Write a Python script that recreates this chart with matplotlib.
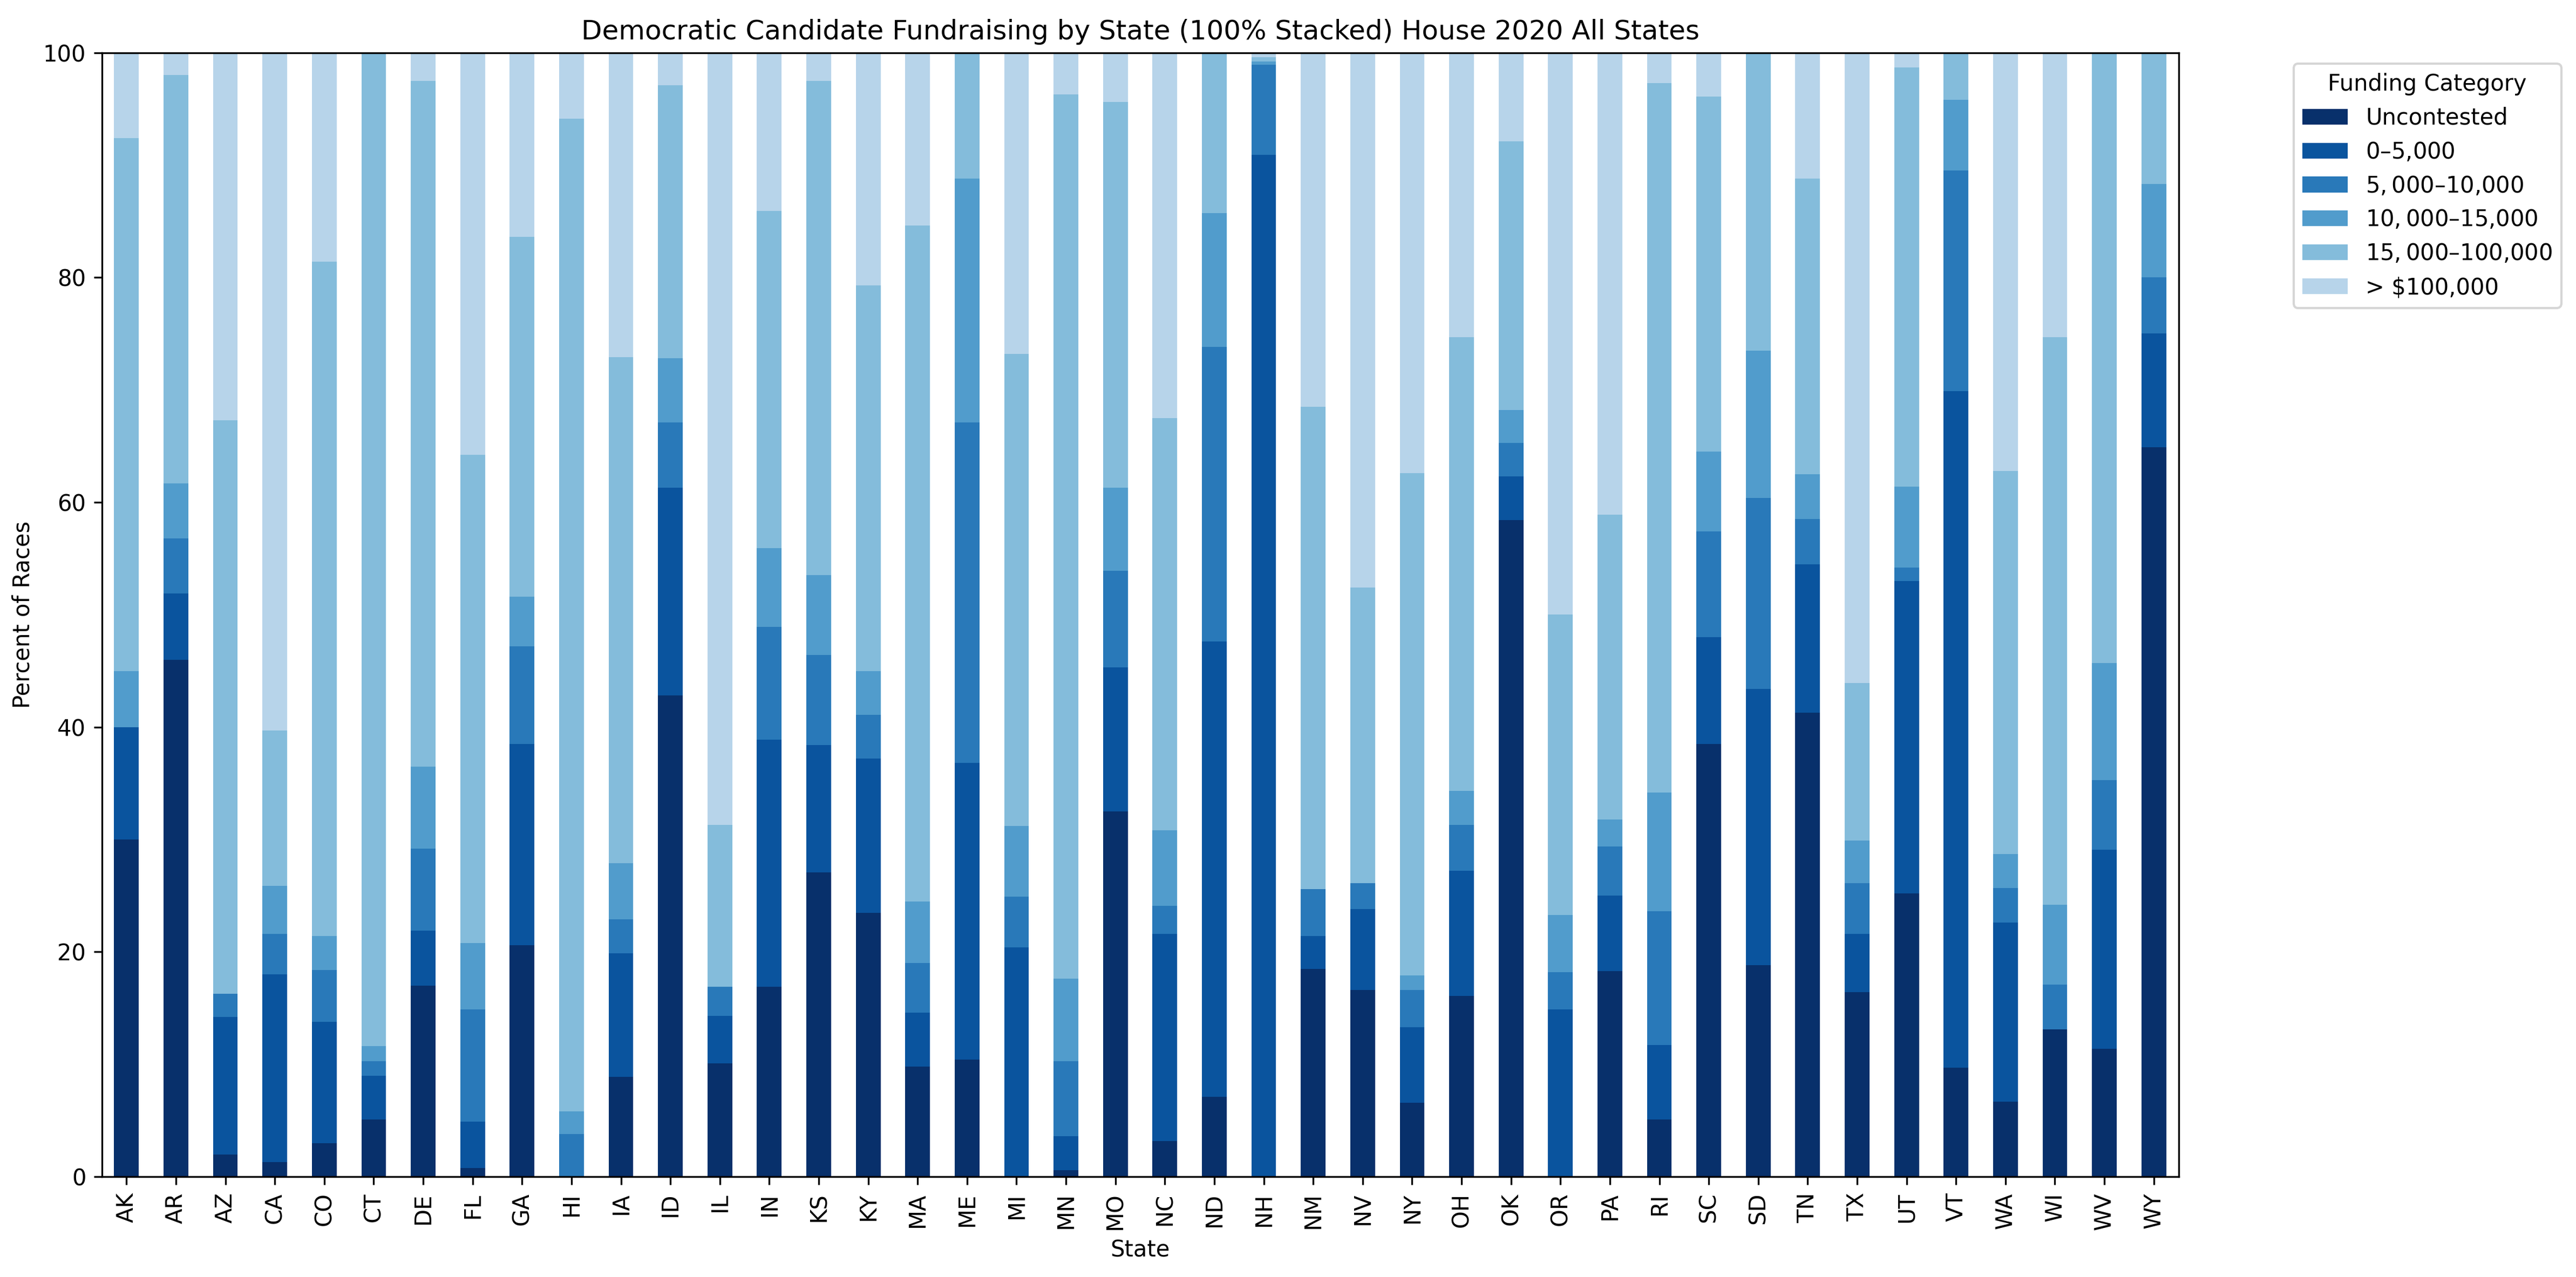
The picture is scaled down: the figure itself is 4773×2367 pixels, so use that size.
import matplotlib.pyplot as plt
import numpy as np
import pandas as pd

plt.switch_backend('agg')

states = ['AK', 'AR', 'AZ', 'CA', 'CO', 'CT', 'DE', 'FL', 'GA', 'HI', 'IA', 'ID', 'IL', 'IN',
          'KS', 'KY', 'MA', 'ME', 'MI', 'MN', 'MO', 'NC', 'ND', 'NH', 'NM', 'NV', 'NY', 'OH',
          'OK', 'OR', 'PA', 'RI', 'SC', 'SD', 'TN', 'TX', 'UT', 'VT', 'WA', 'WI', 'WV', 'WY']

categories = ['Uncontested', '$0–$5,000', '$5,000–$10,000', '$10,000–$15,000',
              '$15,000–$100,000', '> $100,000']

uncontested = [30.0, 46.0, 2.0, 1.3, 3.0, 5.1, 17.0, 0.8, 20.6, 0, 8.9, 42.8, 10.1, 16.9,
               27.1, 23.5, 9.8, 10.4, 0, 0.6, 32.5, 3.2, 7.1, 0, 18.5, 16.6, 6.6, 16.1,
               58.4, 0, 18.3, 5.1, 38.5, 18.8, 41.3, 16.4, 25.2, 9.7, 6.7, 13.1, 11.4, 64.9]
under_5k = [10.0, 5.9, 12.2, 16.7, 10.8, 3.9, 4.9, 4.1, 17.9, 0, 11.0, 18.5, 4.2, 22.0,
            11.3, 13.7, 4.8, 26.4, 20.4, 3.0, 12.8, 18.4, 40.5, 90.9, 2.9, 7.2, 6.7, 11.1,
            3.9, 14.9, 6.7, 6.6, 9.5, 24.6, 13.2, 5.2, 27.8, 60.2, 15.9, 0, 17.7, 10.1]
k5_10 = [0, 4.9, 2.1, 3.6, 4.6, 1.3, 7.3, 10.0, 8.7, 3.8, 3.0, 5.8, 2.6, 10.0,
         8.0, 3.9, 4.4, 30.3, 4.5, 6.7, 8.6, 2.5, 26.2, 8.0, 4.2, 2.3, 3.3, 4.1,
         3.0, 3.3, 4.4, 11.9, 9.4, 17.0, 4.0, 4.5, 1.2, 19.6, 3.1, 4.0, 6.2, 5.0]
k10_15 = [5.0, 4.9, 0, 4.3, 3.0, 1.3, 7.3, 5.9, 4.4, 2.0, 5.0, 5.7, 0, 7.0,
          7.1, 3.9, 5.5, 21.7, 6.3, 7.3, 7.4, 6.7, 11.9, 0.3, 0, 0, 1.3, 3.0,
          2.9, 5.1, 2.4, 10.6, 7.1, 13.1, 4.0, 3.8, 7.2, 6.3, 3.0, 7.1, 10.4, 8.3]
k15_100 = [47.4, 36.3, 51.0, 13.8, 60.0, 88.4, 61.0, 43.4, 32.0, 88.3, 45.0, 24.3, 14.4, 30.0,
           44.0, 34.3, 60.1, 11.2, 42.0, 78.7, 34.3, 36.7, 14.3, 0.4, 42.9, 26.3, 44.7, 40.4,
           23.9, 26.7, 27.1, 63.1, 31.6, 26.5, 26.3, 14.0, 37.3, 4.2, 34.1, 50.5, 54.3, 11.7]
over_100k = [7.6, 2.0, 32.7, 60.2, 18.6, 0, 2.5, 35.8, 16.4, 5.9, 27.1, 2.9, 68.7, 14.1,
             2.5, 20.7, 15.4, 0, 26.8, 3.7, 4.4, 32.5, 0, 0.4, 31.5, 47.6, 37.4, 25.3,
             7.9, 50.0, 41.1, 2.7, 3.9, 0, 11.2, 56.1, 1.3, 0, 37.2, 25.3, 0, 0]

df = pd.DataFrame(
    dict(zip(categories, [uncontested, under_5k, k5_10, k10_15, k15_100, over_100k])),
    index=states)

colors = plt.cm.Blues(np.linspace(1.0, 0.3, 6))

fig, ax = plt.subplots(figsize=(15.91, 7.89))
fig.subplots_adjust(left=0.0395, right=0.8457, top=0.9588, bottom=0.0785)
df.plot(kind='bar', stacked=True, color=colors, ax=ax)
ax.set_ylim(0, 100)
ax.set_title('Democratic Candidate Fundraising by State (100% Stacked) House 2020 All States')
ax.set_xlabel('State')
ax.set_ylabel('Percent of Races')
ax.legend(title='Funding Category', bbox_to_anchor=(1.05, 1), loc='upper left')
fig.savefig('out.png', dpi=300)
plt.close('all')
